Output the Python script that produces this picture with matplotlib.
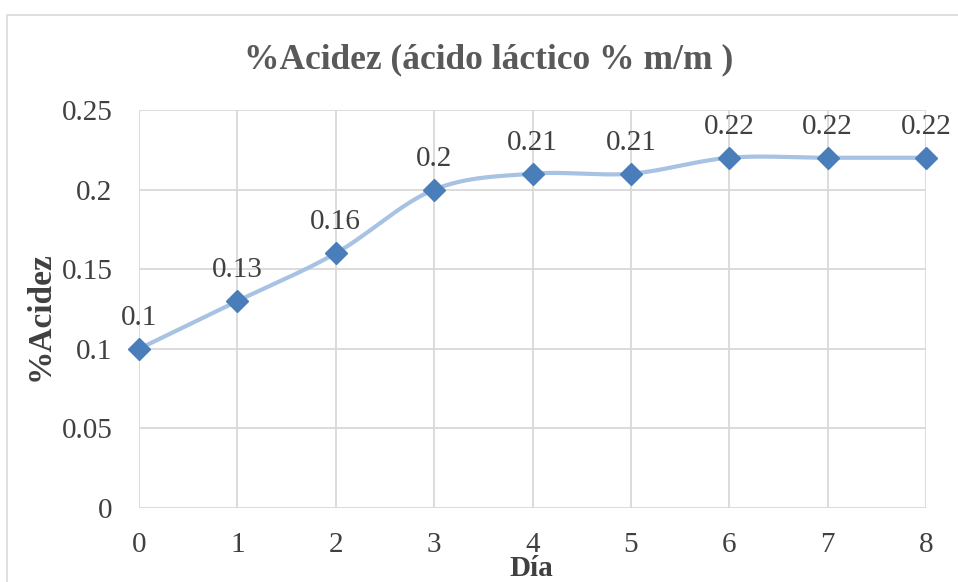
import numpy as np
import matplotlib.pyplot as plt
from matplotlib.patches import Rectangle

# =========================
# DATA
# =========================
dias = [0, 1, 2, 3, 4, 5, 6, 7, 8]
acidez = [0.10, 0.13, 0.16, 0.20, 0.21, 0.21, 0.22, 0.22, 0.22]
etiquetas = ["0.1", "0.13", "0.16", "0.2", "0.21", "0.21", "0.22", "0.22", "0.22"]
y_ticks = [0, 0.05, 0.1, 0.15, 0.2, 0.25]
y_tick_labels = ["0", "0.05", "0.1", "0.15", "0.2", "0.25"]

TEXT_COLOR = "#404040"
GRID_COLOR = "#D9D9D9"
LINE_COLOR = "#A7C2E2"
MARKER_COLOR = "#4A7EBB"

plt.rcParams["font.family"] = ["Liberation Serif", "DejaVu Serif"]


# Excel-like smoothing (Catmull-Rom through the points)
def smooth_curve(x, y, n=30):
    x = np.asarray(x, float)
    y = np.asarray(y, float)
    px = np.concatenate([[x[0]], x, [x[-1]]])
    py = np.concatenate([[y[0]], y, [y[-1]]])
    xs, ys = [], []
    t = np.linspace(0, 1, n)
    for i in range(1, len(px) - 2):
        p0, p1, p2, p3 = (np.array([px[j], py[j]]) for j in range(i - 1, i + 3))
        c1 = p1 + (p2 - p0) / 6
        c2 = p2 - (p3 - p1) / 6
        b = ((1 - t) ** 3)[:, None] * p1 + (3 * (1 - t) ** 2 * t)[:, None] * c1 \
            + (3 * (1 - t) * t ** 2)[:, None] * c2 + (t ** 3)[:, None] * p2
        xs.extend(b[:, 0])
        ys.extend(b[:, 1])
    return xs, ys


fig = plt.figure(figsize=(9.58, 5.82), dpi=100)
ax = fig.add_axes([0.1451, 0.1271, 0.8215, 0.6839])

# border of the chart area (right and bottom run off the picture)
fig.patches.append(Rectangle((7 / 958, -0.2), 1.2, 1.2 - 15 / 582, transform=fig.transFigure,
                             fill=False, edgecolor="#D9D9D9", linewidth=1.2))

sx, sy = smooth_curve(dias, acidez)
ax.plot(sx, sy, color=LINE_COLOR, linewidth=3, solid_capstyle="round", zorder=2)
ax.plot(dias, acidez, linestyle="none", marker="D", markersize=11,
        color=MARKER_COLOR, zorder=3, clip_on=False)

for xi, yi, lab in zip(dias, acidez, etiquetas):
    ax.annotate(lab, (xi, yi), xytext=(0, 13), textcoords="offset points",
                ha="center", va="bottom", fontsize=21, color=TEXT_COLOR)

ax.set_xlim(0, 8)
ax.set_ylim(0, 0.25)
ax.set_xticks(dias)
ax.set_xticklabels([str(d) for d in dias])
ax.set_yticks(y_ticks)
ax.set_yticklabels(y_tick_labels)
ax.tick_params(axis="both", length=0, labelsize=21, colors=TEXT_COLOR)
ax.tick_params(axis="x", pad=17)
ax.tick_params(axis="y", pad=19)

ax.grid(True, color=GRID_COLOR, linewidth=1.3)
ax.set_axisbelow(True)
for s in ax.spines.values():
    s.set_visible(False)

fig.text(531 / 958, 1 - 569 / 582, "Día", ha="center", va="center",
         fontsize=21, fontweight="bold", color=TEXT_COLOR)
fig.text(40 / 958, 1 - 316 / 582, "%Acidez", ha="center", va="center", rotation=90,
         fontsize=24, fontweight="bold", color=TEXT_COLOR)
fig.text(0.510, 0.897, "%Acidez (ácido láctico % m/m )", ha="center", va="center",
         fontsize=25.5, fontweight="bold", color="#595959")

fig.savefig("out.png", dpi=100)
